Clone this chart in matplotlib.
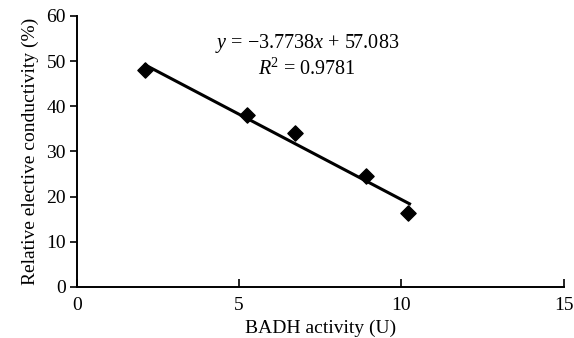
import numpy as np
import matplotlib
matplotlib.use("Agg")
import matplotlib.pyplot as plt

plt.rcParams["font.family"] = "Liberation Serif"
plt.rcParams["mathtext.fontset"] = "custom"
plt.rcParams["mathtext.rm"] = "Liberation Serif"
plt.rcParams["mathtext.it"] = "Liberation Serif:italic"

# data
badh = [2.09, 5.23, 6.71, 8.90, 10.21]
conductivity = [48.0, 38.0, 34.1, 24.6, 16.3]
slope = -3.7738
intercept = 57.083
fit_x = [2.1, 10.25]

fig = plt.figure(figsize=(5.74, 3.38), dpi=100)
ax = fig.add_axes([0.134, 0.151, 0.848, 0.802])

fx = np.array(fit_x)
ax.plot(fx, slope * fx + intercept, color="black", lw=2.2, zorder=2)
ax.scatter(badh, conductivity, marker="D", s=60, color="black", zorder=3)

ax.set_xlim(0, 15)
ax.set_ylim(0, 60)
ax.set_xticks([0, 5, 10, 15])
ax.set_yticks(range(0, 61, 10))
ax.spines["top"].set_visible(False)
ax.spines["right"].set_visible(False)
ax.spines["left"].set_linewidth(1.4)
ax.spines["bottom"].set_linewidth(1.4)
ax.tick_params(axis="y", direction="out", length=5, width=1.2, labelsize=14, pad=3)
ax.tick_params(axis="x", direction="in", length=6, width=1.2, labelsize=14, pad=7)

ax.set_xlabel("BADH activity (U)", fontsize=14, labelpad=4)
ax.set_ylabel("Relative elective conductivity (%)", fontsize=14, labelpad=5)

ax.text(7.1, 53.8, r"$y$ = −3.7738$x$ + 57.083", fontsize=14.5, ha="center", va="center")
ax.text(7.1, 48.2, r"$R$$^{2}$ = 0.9781", fontsize=14.5, ha="center", va="center")

fig.savefig("out.png", dpi=100)
